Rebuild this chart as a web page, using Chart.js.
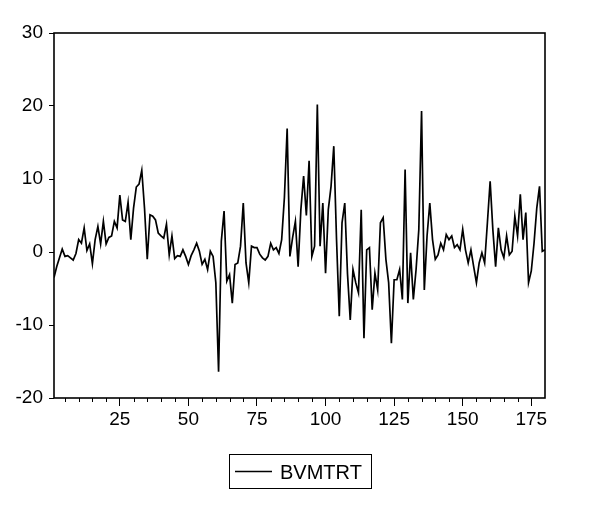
<!DOCTYPE html>
<html><head><meta charset="utf-8">
<script src="https://cdn.jsdelivr.net/npm/chart.js@4/dist/chart.umd.min.js"></script>
<style>html,body{margin:0;padding:0;background:#fff}#wrap{width:589px;height:512px;position:relative}canvas{display:block}</style>
</head><body><div id="wrap"><canvas id="c" width="589" height="512"></canvas></div>
<script>
const seriesName = 'BVMTRT';
const bvmtrt = [
 -3.5,-2.0,-0.8,0.4,-0.6,-0.5,-0.8,-1.1,-0.2,1.7,
 1.2,3.3,0.2,1.1,-1.6,1.7,3.5,1.1,4.2,1.1,
 2.0,2.2,4.2,3.3,7.8,4.4,4.2,6.8,1.7,6.0,
 8.9,9.3,11.2,6.0,-1.0,5.1,4.9,4.4,2.6,2.2,
 1.9,3.8,-0.4,2.2,-0.9,-0.5,-0.6,0.3,-0.6,-1.7,
 -0.5,0.3,1.2,0.1,-1.7,-1.0,-2.4,0.1,-0.6,-4.2,
 -16.4,1.5,5.6,-4.0,-3.1,-7.0,-1.7,-1.5,0.8,6.7,
 -1.5,-4.2,0.8,0.6,0.6,-0.3,-0.8,-1.1,-0.6,1.2,
 0.3,0.6,-0.2,1.7,7.5,16.9,-0.6,2.0,4.2,-2.0,
 5.8,10.4,5.0,12.5,-0.6,0.8,20.2,0.8,6.7,-2.9,
 5.8,9.0,14.5,1.7,-8.8,4.0,6.7,-3.0,-9.3,-2.4,
 -4.2,-5.6,5.8,-11.8,0.3,0.6,-7.9,-2.9,-5.2,4.0,
 4.7,-1.0,-4.2,-12.5,-3.8,-3.8,-2.4,-6.5,11.3,-7.0,
 -0.1,-6.5,-2.4,3.1,19.3,-5.2,2.2,6.7,1.7,-1.0,
 -0.4,1.2,0.3,2.4,1.7,2.2,0.6,1.0,0.3,3.1,
 0.3,-1.5,0.3,-2.0,-4.2,-1.5,-0.1,-1.5,4.0,9.7,
 3.0,-2.0,3.3,0.3,-0.8,2.2,-0.4,0.1,4.9,2.2,
 7.9,1.7,5.4,-4.2,-2.6,1.2,6.0,9.0,0.1,0.3
];
const obs = bvmtrt.map((_, i) => i + 1);
const xTickLabels = [25, 50, 75, 100, 125, 150, 175];
const xMinorStep = 5;
const yTickLabels = [-20, -10, 0, 10, 20, 30];

const FONT = '"Liberation Sans", Arial, sans-serif';

const framePlugin = {
  id: 'frame',
  afterDraw(chart) {
    const {ctx, chartArea: a, scales: {x}} = chart;
    ctx.save();
    ctx.strokeStyle = '#000';
    ctx.lineWidth = 1.6;
    ctx.strokeRect(a.left, a.top, a.right - a.left, a.bottom - a.top);
    // minor ticks on x axis
    ctx.lineWidth = 1;
    ctx.beginPath();
    for (let v = xMinorStep; v < x.max; v += xMinorStep) {
      if (xTickLabels.includes(v)) continue;
      const px = Math.round(x.getPixelForValue(v)) + 0.5;
      ctx.moveTo(px, a.bottom);
      ctx.lineTo(px, a.bottom + 4);
    }
    ctx.stroke();
    // legend
    ctx.lineWidth = 1;
    ctx.strokeRect(229.5, 454.5, 142, 34);
    ctx.lineWidth = 1.7;
    ctx.beginPath();
    ctx.moveTo(235, 471.5);
    ctx.lineTo(272, 471.5);
    ctx.stroke();
    ctx.fillStyle = '#000';
    ctx.font = '20px ' + FONT;
    ctx.textBaseline = 'alphabetic';
    ctx.fillText(seriesName, 280, 479);
    ctx.restore();
  }
};

new Chart(document.getElementById('c'), {
  type: 'line',
  data: {
    datasets: [{
      label: seriesName,
      data: obs.map((o, i) => ({x: o, y: bvmtrt[i]})),
      borderColor: '#000',
      borderWidth: 1.7,
      pointRadius: 0,
      tension: 0,
      fill: false
    }]
  },
  options: {
    responsive: false,
    animation: false,
    devicePixelRatio: 1,
    layout: {padding: {left: 0, right: 44, top: 33, bottom: 74}},
    plugins: {legend: {display: false}, tooltip: {enabled: false}},
    scales: {
      x: {
        type: 'linear',
        min: 1, max: 180,
        afterBuildTicks: s => { s.ticks = xTickLabels.map(v => ({value: v})); },
        afterFit: s => { s.height = 40; },
        border: {display: false},
        grid: {drawOnChartArea: false, drawTicks: true, tickLength: 8, tickColor: '#000', tickWidth: 1},
        ticks: {color: '#000', font: {family: FONT, size: 19}, padding: 2, maxRotation: 0, autoSkip: false}
      },
      y: {
        min: -20, max: 30,
        afterBuildTicks: s => { s.ticks = yTickLabels.map(v => ({value: v})); },
        afterFit: s => { s.width = 54; },
        border: {display: false},
        grid: {drawOnChartArea: false, drawTicks: true, tickLength: 5, tickColor: '#000', tickWidth: 1},
        ticks: {color: '#000', font: {family: FONT, size: 19}, padding: 6}
      }
    }
  },
  plugins: [framePlugin]
});
</script>
</body></html>
